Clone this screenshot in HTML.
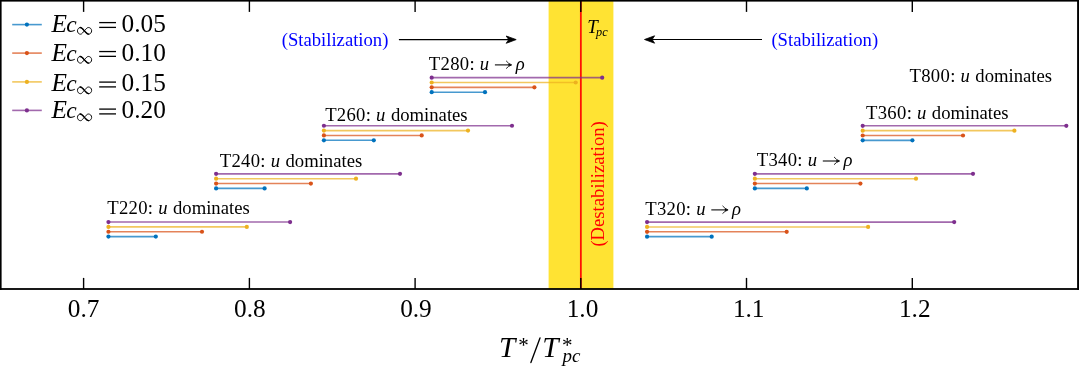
<!DOCTYPE html><html><head><meta charset="utf-8"><style>html,body{margin:0;padding:0;background:#fff;width:1079px;height:370px;overflow:hidden}svg{display:block;will-change:transform}text{font-family:"Liberation Serif",serif;fill:#000}</style></head><body><svg width="1079" height="370" viewBox="0 0 1079 370"><rect x="548.6" y="0" width="64.8" height="289.3" fill="#FFE333"/><line x1="580.85" y1="0" x2="580.85" y2="289" stroke="#FF0000" stroke-opacity="0.92" stroke-width="1.8"/><line x1="108.45" y1="236.60" x2="155.8" y2="236.60" stroke="#0072BD" stroke-width="1.6" stroke-opacity="0.72"/><line x1="108.45" y1="231.75" x2="202.0" y2="231.75" stroke="#D95319" stroke-width="1.6" stroke-opacity="0.72"/><line x1="108.45" y1="226.90" x2="246.8" y2="226.90" stroke="#EDB120" stroke-width="1.6" stroke-opacity="0.72"/><line x1="108.45" y1="222.05" x2="290.1" y2="222.05" stroke="#7E2F8E" stroke-width="1.6" stroke-opacity="0.72"/><circle cx="108.45" cy="236.60" r="2.1" fill="#0072BD"/><circle cx="155.8" cy="236.60" r="2.1" fill="#0072BD"/><circle cx="108.45" cy="231.75" r="2.1" fill="#D95319"/><circle cx="202.0" cy="231.75" r="2.1" fill="#D95319"/><circle cx="108.45" cy="226.90" r="2.1" fill="#EDB120"/><circle cx="246.8" cy="226.90" r="2.1" fill="#EDB120"/><circle cx="108.45" cy="222.05" r="2.1" fill="#7E2F8E"/><circle cx="290.1" cy="222.05" r="2.1" fill="#7E2F8E"/><text y="213.50" font-size="18.67"><tspan x="107.26" letter-spacing="0.3">T220:</tspan><tspan x="158.17" font-style="italic">u</tspan><tspan x="173.03">dominates</tspan></text><line x1="216.1" y1="188.40" x2="264.6" y2="188.40" stroke="#0072BD" stroke-width="1.6" stroke-opacity="0.72"/><line x1="216.1" y1="183.55" x2="310.9" y2="183.55" stroke="#D95319" stroke-width="1.6" stroke-opacity="0.72"/><line x1="216.1" y1="178.70" x2="356.0" y2="178.70" stroke="#EDB120" stroke-width="1.6" stroke-opacity="0.72"/><line x1="216.1" y1="173.85" x2="400.0" y2="173.85" stroke="#7E2F8E" stroke-width="1.6" stroke-opacity="0.72"/><circle cx="216.1" cy="188.40" r="2.1" fill="#0072BD"/><circle cx="264.6" cy="188.40" r="2.1" fill="#0072BD"/><circle cx="216.1" cy="183.55" r="2.1" fill="#D95319"/><circle cx="310.9" cy="183.55" r="2.1" fill="#D95319"/><circle cx="216.1" cy="178.70" r="2.1" fill="#EDB120"/><circle cx="356.0" cy="178.70" r="2.1" fill="#EDB120"/><circle cx="216.1" cy="173.85" r="2.1" fill="#7E2F8E"/><circle cx="400.0" cy="173.85" r="2.1" fill="#7E2F8E"/><text y="166.80" font-size="18.67"><tspan x="219.76" letter-spacing="0.3">T240:</tspan><tspan x="270.67" font-style="italic">u</tspan><tspan x="285.53">dominates</tspan></text><line x1="323.9" y1="140.30" x2="373.8" y2="140.30" stroke="#0072BD" stroke-width="1.6" stroke-opacity="0.72"/><line x1="323.9" y1="135.45" x2="421.7" y2="135.45" stroke="#D95319" stroke-width="1.6" stroke-opacity="0.72"/><line x1="323.9" y1="130.60" x2="468.0" y2="130.60" stroke="#EDB120" stroke-width="1.6" stroke-opacity="0.72"/><line x1="323.9" y1="125.75" x2="512.0" y2="125.75" stroke="#7E2F8E" stroke-width="1.6" stroke-opacity="0.72"/><circle cx="323.9" cy="140.30" r="2.1" fill="#0072BD"/><circle cx="373.8" cy="140.30" r="2.1" fill="#0072BD"/><circle cx="323.9" cy="135.45" r="2.1" fill="#D95319"/><circle cx="421.7" cy="135.45" r="2.1" fill="#D95319"/><circle cx="323.9" cy="130.60" r="2.1" fill="#EDB120"/><circle cx="468.0" cy="130.60" r="2.1" fill="#EDB120"/><circle cx="323.9" cy="125.75" r="2.1" fill="#7E2F8E"/><circle cx="512.0" cy="125.75" r="2.1" fill="#7E2F8E"/><text y="120.50" font-size="18.67"><tspan x="325.16" letter-spacing="0.3">T260:</tspan><tspan x="376.07" font-style="italic">u</tspan><tspan x="390.93">dominates</tspan></text><line x1="431.7" y1="92.20" x2="485.0" y2="92.20" stroke="#0072BD" stroke-width="1.6" stroke-opacity="0.72"/><line x1="431.7" y1="87.35" x2="534.4" y2="87.35" stroke="#D95319" stroke-width="1.6" stroke-opacity="0.72"/><line x1="431.7" y1="82.50" x2="575.7" y2="82.50" stroke="#EDB120" stroke-width="1.6" stroke-opacity="0.72"/><line x1="431.7" y1="77.65" x2="602.2" y2="77.65" stroke="#7E2F8E" stroke-width="1.6" stroke-opacity="0.72"/><circle cx="431.7" cy="92.20" r="2.1" fill="#0072BD"/><circle cx="485.0" cy="92.20" r="2.1" fill="#0072BD"/><circle cx="431.7" cy="87.35" r="2.1" fill="#D95319"/><circle cx="534.4" cy="87.35" r="2.1" fill="#D95319"/><circle cx="431.7" cy="82.50" r="2.1" fill="#EDB120"/><circle cx="575.7" cy="82.50" r="2.1" fill="#EDB120"/><circle cx="431.7" cy="77.65" r="2.1" fill="#7E2F8E"/><circle cx="602.2" cy="77.65" r="2.1" fill="#7E2F8E"/><text y="69.60" font-size="18.67"><tspan x="428.86" letter-spacing="0.3">T280:</tspan><tspan x="479.77" font-style="italic">u</tspan><tspan x="515.72" font-style="italic">ρ</tspan></text><line x1="494.90" y1="64.90" x2="510.50" y2="64.90" stroke="#000" stroke-width="1.05"/><path d="M506.10,60.80 Q508.30,63.70 511.70,64.90 Q508.30,66.10 506.10,68.60" fill="none" stroke="#000" stroke-width="0.85"/><path d="M511.70,64.90 L508.50,63.80 L508.50,66.00 Z" fill="#000"/><line x1="647.05" y1="236.65" x2="711.7" y2="236.65" stroke="#0072BD" stroke-width="1.6" stroke-opacity="0.72"/><line x1="647.05" y1="231.80" x2="786.7" y2="231.80" stroke="#D95319" stroke-width="1.6" stroke-opacity="0.72"/><line x1="647.05" y1="226.95" x2="868.1" y2="226.95" stroke="#EDB120" stroke-width="1.6" stroke-opacity="0.72"/><line x1="647.05" y1="222.10" x2="954.2" y2="222.10" stroke="#7E2F8E" stroke-width="1.6" stroke-opacity="0.72"/><circle cx="647.05" cy="236.65" r="2.1" fill="#0072BD"/><circle cx="711.7" cy="236.65" r="2.1" fill="#0072BD"/><circle cx="647.05" cy="231.80" r="2.1" fill="#D95319"/><circle cx="786.7" cy="231.80" r="2.1" fill="#D95319"/><circle cx="647.05" cy="226.95" r="2.1" fill="#EDB120"/><circle cx="868.1" cy="226.95" r="2.1" fill="#EDB120"/><circle cx="647.05" cy="222.10" r="2.1" fill="#7E2F8E"/><circle cx="954.2" cy="222.10" r="2.1" fill="#7E2F8E"/><text y="214.60" font-size="18.67"><tspan x="645.26" letter-spacing="0.3">T320:</tspan><tspan x="696.17" font-style="italic">u</tspan><tspan x="732.12" font-style="italic">ρ</tspan></text><line x1="711.30" y1="209.90" x2="726.90" y2="209.90" stroke="#000" stroke-width="1.05"/><path d="M722.50,205.80 Q724.70,208.70 728.10,209.90 Q724.70,211.10 722.50,213.60" fill="none" stroke="#000" stroke-width="0.85"/><path d="M728.10,209.90 L724.90,208.80 L724.90,211.00 Z" fill="#000"/><line x1="754.85" y1="188.40" x2="806.8" y2="188.40" stroke="#0072BD" stroke-width="1.6" stroke-opacity="0.72"/><line x1="754.85" y1="183.55" x2="860.4" y2="183.55" stroke="#D95319" stroke-width="1.6" stroke-opacity="0.72"/><line x1="754.85" y1="178.70" x2="916.0" y2="178.70" stroke="#EDB120" stroke-width="1.6" stroke-opacity="0.72"/><line x1="754.85" y1="173.85" x2="973.0" y2="173.85" stroke="#7E2F8E" stroke-width="1.6" stroke-opacity="0.72"/><circle cx="754.85" cy="188.40" r="2.1" fill="#0072BD"/><circle cx="806.8" cy="188.40" r="2.1" fill="#0072BD"/><circle cx="754.85" cy="183.55" r="2.1" fill="#D95319"/><circle cx="860.4" cy="183.55" r="2.1" fill="#D95319"/><circle cx="754.85" cy="178.70" r="2.1" fill="#EDB120"/><circle cx="916.0" cy="178.70" r="2.1" fill="#EDB120"/><circle cx="754.85" cy="173.85" r="2.1" fill="#7E2F8E"/><circle cx="973.0" cy="173.85" r="2.1" fill="#7E2F8E"/><text y="165.70" font-size="18.67"><tspan x="756.76" letter-spacing="0.3">T340:</tspan><tspan x="807.67" font-style="italic">u</tspan><tspan x="843.62" font-style="italic">ρ</tspan></text><line x1="822.80" y1="161.00" x2="838.40" y2="161.00" stroke="#000" stroke-width="1.05"/><path d="M834.00,156.90 Q836.20,159.80 839.60,161.00 Q836.20,162.20 834.00,164.70" fill="none" stroke="#000" stroke-width="0.85"/><path d="M839.60,161.00 L836.40,159.90 L836.40,162.10 Z" fill="#000"/><line x1="862.7" y1="140.35" x2="912.4" y2="140.35" stroke="#0072BD" stroke-width="1.6" stroke-opacity="0.72"/><line x1="862.7" y1="135.50" x2="963.0" y2="135.50" stroke="#D95319" stroke-width="1.6" stroke-opacity="0.72"/><line x1="862.7" y1="130.65" x2="1014.4" y2="130.65" stroke="#EDB120" stroke-width="1.6" stroke-opacity="0.72"/><line x1="862.7" y1="125.80" x2="1066.3" y2="125.80" stroke="#7E2F8E" stroke-width="1.6" stroke-opacity="0.72"/><circle cx="862.7" cy="140.35" r="2.1" fill="#0072BD"/><circle cx="912.4" cy="140.35" r="2.1" fill="#0072BD"/><circle cx="862.7" cy="135.50" r="2.1" fill="#D95319"/><circle cx="963.0" cy="135.50" r="2.1" fill="#D95319"/><circle cx="862.7" cy="130.65" r="2.1" fill="#EDB120"/><circle cx="1014.4" cy="130.65" r="2.1" fill="#EDB120"/><circle cx="862.7" cy="125.80" r="2.1" fill="#7E2F8E"/><circle cx="1066.3" cy="125.80" r="2.1" fill="#7E2F8E"/><text y="118.60" font-size="18.67"><tspan x="866.06" letter-spacing="0.3">T360:</tspan><tspan x="916.97" font-style="italic">u</tspan><tspan x="931.83">dominates</tspan></text><text y="81.50" font-size="18.67"><tspan x="909.56" letter-spacing="0.3">T800:</tspan><tspan x="960.47" font-style="italic">u</tspan><tspan x="975.33">dominates</tspan></text><text x="587.2" y="33.4" font-size="18.4" font-style="italic" transform="translate(587.2,33.4) scale(1.03,1) translate(-587.2,-33.4)">T</text><text x="596.0" y="35.9" font-size="12.3" font-style="italic">pc</text><text transform="translate(603.6,245.8) rotate(-90)" x="-0.82" y="0" font-size="18.67" style="fill:#FF0000">(Destabilization)</text><text x="281.68" y="46.0" font-size="18.67" style="fill:#0000FF">(Stabilization)</text><text x="771.38" y="46.0" font-size="18.67" style="fill:#0000FF">(Stabilization)</text><line x1="398.9" y1="39.6" x2="510" y2="39.6" stroke="#000" stroke-width="1.2"/><path d="M516.2,39.6 L506.2,36 L508.7,39.6 L506.2,43.3 Z" fill="#000" stroke="#000" stroke-width="0.8" stroke-linejoin="round"/><line x1="650" y1="39.5" x2="762" y2="39.5" stroke="#000" stroke-width="1.2"/><path d="M644.5,39.5 L654.6,35.8 L652.2,39.5 L654.6,43.2 Z" fill="#000" stroke="#000" stroke-width="0.8" stroke-linejoin="round"/><rect x="0" y="0" width="1079" height="1.6" fill="#000"/><rect x="0" y="288.1" width="1079" height="1.8" fill="#000"/><rect x="0" y="0" width="1.6" height="289.9" fill="#000"/><rect x="1077.1" y="0" width="1.9" height="289.9" fill="#000"/><line x1="83.60" y1="289" x2="83.60" y2="277.9" stroke="#000" stroke-width="1.4"/><line x1="83.60" y1="0" x2="83.60" y2="11.9" stroke="#000" stroke-width="1.4"/><text x="67.79" y="317.1" font-size="25.3">0.7</text><line x1="249.40" y1="289" x2="249.40" y2="277.9" stroke="#000" stroke-width="1.4"/><line x1="249.40" y1="0" x2="249.40" y2="11.9" stroke="#000" stroke-width="1.4"/><text x="234.04" y="317.1" font-size="25.3">0.8</text><line x1="415.10" y1="289" x2="415.10" y2="277.9" stroke="#000" stroke-width="1.4"/><line x1="415.10" y1="0" x2="415.10" y2="11.9" stroke="#000" stroke-width="1.4"/><text x="400.14" y="317.1" font-size="25.3">0.9</text><line x1="580.80" y1="289" x2="580.80" y2="277.9" stroke="#000" stroke-width="1.4"/><line x1="580.80" y1="0" x2="580.80" y2="11.9" stroke="#000" stroke-width="1.4"/><text x="566.68" y="317.1" font-size="25.3">1.0</text><line x1="746.50" y1="289" x2="746.50" y2="277.9" stroke="#000" stroke-width="1.4"/><line x1="746.50" y1="0" x2="746.50" y2="11.9" stroke="#000" stroke-width="1.4"/><text x="732.88" y="317.1" font-size="25.3">1.1</text><line x1="912.30" y1="289" x2="912.30" y2="277.9" stroke="#000" stroke-width="1.4"/><line x1="912.30" y1="0" x2="912.30" y2="11.9" stroke="#000" stroke-width="1.4"/><text x="898.98" y="317.1" font-size="25.3">1.2</text><text x="499.0" y="357" font-size="29.3" font-style="italic">T</text><text x="518.3" y="351.9" font-size="21">*</text><line x1="540.0" y1="337.9" x2="530.9" y2="362.5" stroke="#000" stroke-width="1.35" stroke-linecap="round"/><text x="542.3" y="357" font-size="29.3" font-style="italic">T</text><text x="562.1" y="351.9" font-size="21">*</text><text x="562.6" y="361.6" font-size="19" font-style="italic">pc</text><line x1="12.2" y1="24.60" x2="41.8" y2="24.60" stroke="#0072BD" stroke-width="1.6" stroke-opacity="0.72"/><circle cx="26.9" cy="24.60" r="2.1" fill="#0072BD"/><text y="31.60" font-size="25.3"><tspan x="51.50" font-style="italic">E</tspan><tspan x="66.3" font-style="italic" font-size="23.5">c</tspan><tspan x="121.54">0.05</tspan></text><path d="M84.35,30.85 C83.15,29.65 81.90,27.50 80.60,27.50 C78.80,27.50 77.45,29.00 77.45,30.85 C77.45,32.70 78.80,34.20 80.60,34.20 C81.90,34.20 83.15,32.05 84.35,30.85 C85.55,29.65 86.90,27.50 88.30,27.50 C90.20,27.50 91.65,29.00 91.65,30.85 C91.65,32.70 90.20,34.20 88.30,34.20 C86.90,34.20 85.55,32.05 84.35,30.85 Z" fill="none" stroke="#000" stroke-width="0.95"/><path d="M80.00,27.55 C80.60,27.50 81.90,27.50 84.35,30.85 C85.55,32.05 86.90,34.20 88.60,34.15" fill="none" stroke="#000" stroke-width="1.35" stroke-linecap="round"/><line x1="99.2" y1="22.60" x2="116" y2="22.60" stroke="#000" stroke-width="1.3"/><line x1="99.2" y1="27.40" x2="116" y2="27.40" stroke="#000" stroke-width="1.3"/><line x1="12.2" y1="53.10" x2="41.8" y2="53.10" stroke="#D95319" stroke-width="1.6" stroke-opacity="0.72"/><circle cx="26.9" cy="53.10" r="2.1" fill="#D95319"/><text y="60.55" font-size="25.3"><tspan x="51.50" font-style="italic">E</tspan><tspan x="66.3" font-style="italic" font-size="23.5">c</tspan><tspan x="121.54">0.10</tspan></text><path d="M84.35,59.80 C83.15,58.60 81.90,56.45 80.60,56.45 C78.80,56.45 77.45,57.95 77.45,59.80 C77.45,61.65 78.80,63.15 80.60,63.15 C81.90,63.15 83.15,61.00 84.35,59.80 C85.55,58.60 86.90,56.45 88.30,56.45 C90.20,56.45 91.65,57.95 91.65,59.80 C91.65,61.65 90.20,63.15 88.30,63.15 C86.90,63.15 85.55,61.00 84.35,59.80 Z" fill="none" stroke="#000" stroke-width="0.95"/><path d="M80.00,56.50 C80.60,56.45 81.90,56.45 84.35,59.80 C85.55,61.00 86.90,63.15 88.60,63.10" fill="none" stroke="#000" stroke-width="1.35" stroke-linecap="round"/><line x1="99.2" y1="51.55" x2="116" y2="51.55" stroke="#000" stroke-width="1.3"/><line x1="99.2" y1="56.35" x2="116" y2="56.35" stroke="#000" stroke-width="1.3"/><line x1="12.2" y1="81.90" x2="41.8" y2="81.90" stroke="#EDB120" stroke-width="1.6" stroke-opacity="0.72"/><circle cx="26.9" cy="81.90" r="2.1" fill="#EDB120"/><text y="91.10" font-size="25.3"><tspan x="51.50" font-style="italic">E</tspan><tspan x="66.3" font-style="italic" font-size="23.5">c</tspan><tspan x="121.54">0.15</tspan></text><path d="M84.35,90.35 C83.15,89.15 81.90,87.00 80.60,87.00 C78.80,87.00 77.45,88.50 77.45,90.35 C77.45,92.20 78.80,93.70 80.60,93.70 C81.90,93.70 83.15,91.55 84.35,90.35 C85.55,89.15 86.90,87.00 88.30,87.00 C90.20,87.00 91.65,88.50 91.65,90.35 C91.65,92.20 90.20,93.70 88.30,93.70 C86.90,93.70 85.55,91.55 84.35,90.35 Z" fill="none" stroke="#000" stroke-width="0.95"/><path d="M80.00,87.05 C80.60,87.00 81.90,87.00 84.35,90.35 C85.55,91.55 86.90,93.70 88.60,93.65" fill="none" stroke="#000" stroke-width="1.35" stroke-linecap="round"/><line x1="99.2" y1="82.10" x2="116" y2="82.10" stroke="#000" stroke-width="1.3"/><line x1="99.2" y1="86.90" x2="116" y2="86.90" stroke="#000" stroke-width="1.3"/><line x1="12.2" y1="110.40" x2="41.8" y2="110.40" stroke="#7E2F8E" stroke-width="1.6" stroke-opacity="0.72"/><circle cx="26.9" cy="110.40" r="2.1" fill="#7E2F8E"/><text y="118.10" font-size="25.3"><tspan x="51.50" font-style="italic">E</tspan><tspan x="66.3" font-style="italic" font-size="23.5">c</tspan><tspan x="121.54">0.20</tspan></text><path d="M84.35,117.35 C83.15,116.15 81.90,114.00 80.60,114.00 C78.80,114.00 77.45,115.50 77.45,117.35 C77.45,119.20 78.80,120.70 80.60,120.70 C81.90,120.70 83.15,118.55 84.35,117.35 C85.55,116.15 86.90,114.00 88.30,114.00 C90.20,114.00 91.65,115.50 91.65,117.35 C91.65,119.20 90.20,120.70 88.30,120.70 C86.90,120.70 85.55,118.55 84.35,117.35 Z" fill="none" stroke="#000" stroke-width="0.95"/><path d="M80.00,114.05 C80.60,114.00 81.90,114.00 84.35,117.35 C85.55,118.55 86.90,120.70 88.60,120.65" fill="none" stroke="#000" stroke-width="1.35" stroke-linecap="round"/><line x1="99.2" y1="109.10" x2="116" y2="109.10" stroke="#000" stroke-width="1.3"/><line x1="99.2" y1="113.90" x2="116" y2="113.90" stroke="#000" stroke-width="1.3"/></svg></body></html>
